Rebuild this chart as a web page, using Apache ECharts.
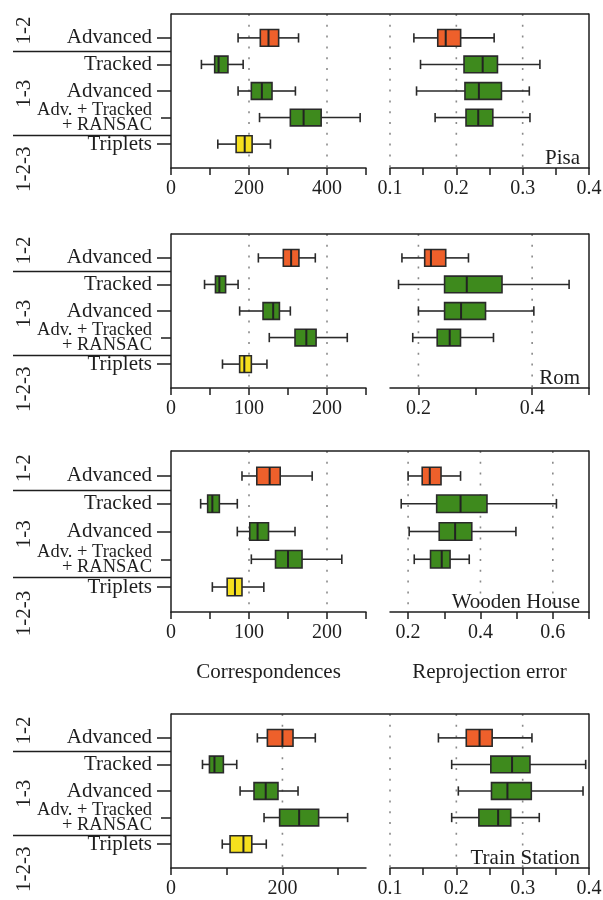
<!DOCTYPE html>
<html><head><meta charset="utf-8">
<script src="https://cdn.jsdelivr.net/npm/echarts@6/dist/echarts.min.js"></script>
<style>html,body{margin:0;padding:0;background:#fff}#c{width:603px;height:900px}</style>
</head><body><div id="c"></div>
<script>
// ---------------- data ----------------
const categories = ['Advanced', 'Tracked', 'Advanced', 'Adv. + Tracked\n+ RANSAC', 'Triplets'];
const rowPos = [1, 2, 3, 4, 5];
const rowGroup = [0, 1, 1, 1, 2];           // 0: 1-2, 1: 1-3, 2: 1-2-3
const groupLabels = ['1-2', '1-3', '1-2-3'];
const datasetNames = ['Pisa', 'Rom', 'Wooden House', 'Train Station'];
const xTitles = ['Correspondences', 'Reprojection error'];

// [min, Q1, median, Q3, max] per row
const pisaCorr  = [[172,229,250,276,327],[78,112,122,146,185],[172,206,233,259,319],[227,306,340,385,485],[120,167,189,208,255]];
const pisaErr   = [[0.136,0.172,0.184,0.2065,0.257],[0.146,0.2116,0.2397,0.262,0.326],[0.140,0.213,0.234,0.268,0.310],[0.168,0.2146,0.233,0.255,0.311]];
const romCorr   = [[112,144,154,164,185],[43,57,62,70,86],[88,118,131,139,153],[126,159,173.5,186,226],[66,88,94,103,123]];
const romErr    = [[0.171,0.211,0.222,0.248,0.288],[0.165,0.246,0.285,0.347,0.465],[0.200,0.246,0.275,0.318,0.403],[0.190,0.233,0.255,0.274,0.332]];
const woodCorr  = [[91,110,126.5,140,181],[38,47,53,62,85],[85,101,111,125,159],[103,134,150,168,219],[53,72,82,91,119]];
const woodErr   = [[0.200,0.239,0.260,0.291,0.345],[0.181,0.279,0.345,0.418,0.610],[0.203,0.286,0.330,0.376,0.498],[0.217,0.262,0.293,0.316,0.369]];
const trainCorr = [[155,173,200,219,259],[56.5,69,78,94,118],[124,149,170,192,228],[167,195,230,265,317],[92,106,130,145,171]];
const trainErr  = [[0.173,0.215,0.235,0.254,0.314],[0.193,0.252,0.284,0.311,0.395],[0.203,0.253,0.277,0.313,0.391],[0.193,0.234,0.263,0.282,0.325]];

const corrData = [pisaCorr, romCorr, woodCorr, trainCorr];
const errData  = [pisaErr, romErr, woodErr, trainErr];

// axis ranges, ticks, labels, dotted grid values
const corrRange  = [[0,500],[0,250],[0,250],[0,350]];
const corrTicks  = [[0,100,200,300,400,500],[0,50,100,150,200,250],[0,50,100,150,200,250],[0,100,200,300]];
const corrLabels = [[0,200,400],[0,100,200],[0,100,200],[0,200]];
const corrGrid   = [[200,400],[100,200],[100,200],[200]];
const errRange   = [[0.1,0.4],[0.15,0.5],[0.15,0.7],[0.1,0.4]];
const errTicks   = [[0.1,0.15,0.2,0.25,0.3,0.35,0.4],[0.2,0.3,0.4,0.5],[0.2,0.3,0.4,0.5,0.6,0.7],[0.1,0.15,0.2,0.25,0.3,0.35,0.4]];
const errLabels  = [[0.1,0.2,0.3,0.4],[0.2,0.4],[0.2,0.4,0.6],[0.1,0.2,0.3,0.4]];
const errGrid    = [[0.1,0.2,0.3],[0.2,0.4],[0.2,0.4,0.6],[0.1,0.2,0.3]];

// ---------------- style / layout ----------------
const FONT = "'Liberation Serif','Times New Roman',serif";
const INK = '#1e1e1e';
const PALETTE = ['#EE602B', '#3E8A1D', '#F6E01E'];
const Y_MIN = 0.1, Y_MAX = 5.9;
const panels = [{T:14,B:168},{T:234,B:388},{T:451,B:612},{T:714,B:868}];
const LEFT_X = 171, LEFT_W = 195, RIGHT_X = 390, RIGHT_W = 199;
const groupRows = [0.72, 3.1, 5.95];
const sepRows = [1.5, 4.65];

function rowY(p, r){ return p.T + (r - Y_MIN) / (Y_MAX - Y_MIN) * (p.B - p.T); }

function renderBox(params, api){
  const row = api.value(0);
  const lo = api.coord([api.value(1), row]);
  const q1 = api.coord([api.value(2), row]);
  const md = api.coord([api.value(3), row]);
  const q3 = api.coord([api.value(4), row]);
  const hi = api.coord([api.value(5), row]);
  const color = PALETTE[api.value(6)];
  const unit = api.size([0, 1])[1];
  const bh = unit * 0.63, ch = unit * 0.35;
  const y = lo[1];
  const ls = {stroke: '#2a2a2a', lineWidth: 1.6};
  return {type:'group', children:[
    {type:'line', shape:{x1:lo[0], y1:y, x2:q1[0], y2:y}, style:ls},
    {type:'line', shape:{x1:q3[0], y1:y, x2:hi[0], y2:y}, style:ls},
    {type:'line', shape:{x1:lo[0], y1:y-ch/2, x2:lo[0], y2:y+ch/2}, style:ls},
    {type:'line', shape:{x1:hi[0], y1:y-ch/2, x2:hi[0], y2:y+ch/2}, style:ls},
    {type:'rect', shape:{x:q1[0], y:y-bh/2, width:q3[0]-q1[0], height:bh}, style:{fill:color, stroke:'#2a2a2a', lineWidth:1.6}},
    {type:'line', shape:{x1:md[0], y1:y-bh/2, x2:md[0], y2:y+bh/2}, style:{stroke:'#222', lineWidth:2}}
  ]};
}
function renderGridLine(params, api){
  const v = api.value(0);
  const a = api.coord([v, Y_MIN]), b = api.coord([v, Y_MAX]);
  return {type:'line', shape:{x1:a[0], y1:a[1], x2:b[0], y2:b[1]}, style:{stroke:'#8a8a8a', lineWidth:1.6, lineDash:[2, 8.8]}};
}

const grids = [], xAxes = [], yAxes = [], extraY = [], series = [], graphics = [];
const axisLineStyle = {color: INK, width: 1.5};

function catFormatter(v){
  const name = categories[Math.round(v) - 1] || '';
  if (name.indexOf('\n') >= 0) return name.split('\n').map(s => '{s|' + s + '}').join('\n');
  return name;
}

function xAxisCfg(gi, range, ticks, labels, name){
  const c = {
    type:'value', gridIndex:gi, min:range[0], max:range[1],
    axisLine:{show:true, onZero:false, lineStyle:axisLineStyle},
    axisTick:{show:true, customValues:ticks, length:7, lineStyle:axisLineStyle},
    axisLabel:{customValues:labels, margin:11, fontSize:20, color:INK, fontFamily:FONT, showMinLabel:true, showMaxLabel:true, hideOverlap:false},
    splitLine:{show:false}
  };
  if (name) {
    c.name = name; c.nameLocation = 'middle'; c.nameGap = 50;
    c.nameTextStyle = {fontSize:21, color:INK, fontFamily:FONT};
  }
  return c;
}
// rows: which row positions get a tick + label on this axis
function yAxisCfg(gi, left, rows, tickLen, showLine){
  return {
    type:'value', gridIndex:gi, min:Y_MIN, max:Y_MAX, inverse:true, position: left ? 'left' : 'right',
    axisLine:{show:showLine, onZero:false, lineStyle:axisLineStyle},
    axisTick:{show:left, customValues:rows, length:tickLen, lineStyle:axisLineStyle},
    axisLabel:{show:left, customValues:rows, margin:19, fontSize:21, color:INK, fontFamily:FONT,
      showMinLabel:true, showMaxLabel:true, hideOverlap:false,
      formatter: catFormatter,
      rich:{s:{fontSize:18.5, lineHeight:15, fontFamily:FONT, color:INK}}
    },
    splitLine:{show:false}
  };
}

const mainRows = rowPos.filter(r => categories[r-1].indexOf('\n') < 0);
const wrapRows = rowPos.filter(r => categories[r-1].indexOf('\n') >= 0);

panels.forEach((p, k) => {
  const gl = 2*k, gr = 2*k + 1;
  grids.push({left:LEFT_X, top:p.T, width:LEFT_W, height:p.B - p.T, containLabel:false, outerBoundsMode:'none'});
  grids.push({left:RIGHT_X, top:p.T, width:RIGHT_W, height:p.B - p.T, containLabel:false, outerBoundsMode:'none'});
  xAxes.push(xAxisCfg(gl, corrRange[k], corrTicks[k], corrLabels[k], k === 2 ? xTitles[0] : null));
  xAxes.push(xAxisCfg(gr, errRange[k], errTicks[k], errLabels[k], k === 2 ? xTitles[1] : null));
  yAxes.push(yAxisCfg(gl, true, mainRows, 14, true));
  yAxes.push(yAxisCfg(gr, false, [], 0, true));
  extraY.push(yAxisCfg(gl, true, wrapRows, 10, false));

  series.push({type:'custom', xAxisIndex:gl, yAxisIndex:gl, z:1, silent:true, clip:true,
    renderItem:renderGridLine, encode:{x:0}, data:corrGrid[k].map(v => [v])});
  series.push({type:'custom', xAxisIndex:gr, yAxisIndex:gr, z:1, silent:true, clip:false,
    renderItem:renderGridLine, encode:{x:0}, data:errGrid[k].map(v => [v])});
  series.push({type:'custom', xAxisIndex:gl, yAxisIndex:gl, z:3, renderItem:renderBox,
    encode:{x:[1,2,3,4,5], y:0},
    data:corrData[k].map((d, i) => [rowPos[i], ...d, rowGroup[i]])});
  series.push({type:'custom', xAxisIndex:gr, yAxisIndex:gr, z:3, renderItem:renderBox,
    encode:{x:[1,2,3,4,5], y:0},
    data:errData[k].map((d, i) => [rowPos[i], ...d, rowGroup[i]])});

  // frame top line spanning both plots
  graphics.push({type:'line', shape:{x1:LEFT_X, y1:p.T, x2:RIGHT_X + RIGHT_W, y2:p.T}, style:{stroke:INK, lineWidth:1.5}, z:10});
  // group separators
  sepRows.forEach(r => {
    const y = Math.round(rowY(p, r)) + 0.5;
    graphics.push({type:'line', shape:{x1:13, y1:y, x2:LEFT_X, y2:y}, style:{stroke:INK, lineWidth:1.5}, z:10});
  });
  // group labels (rotated)
  groupLabels.forEach((g, i) => {
    graphics.push({type:'text', x:24, y:rowY(p, groupRows[i]), rotation:Math.PI/2,
      style:{text:g, font:'21px ' + FONT, fill:INK, align:'center', verticalAlign:'middle'}, z:10});
  });
  // dataset name
  graphics.push({type:'text', x:580, y:p.B - 10,
    style:{text:datasetNames[k], font:'21px ' + FONT, fill:INK, align:'right', verticalAlign:'middle'}, z:10});
});

const chart = echarts.init(document.getElementById('c'), null, {renderer:'canvas'});
chart.setOption({
  animation:false,
  backgroundColor:'#fff',
  textStyle:{fontFamily:FONT},
  grid:grids, xAxis:xAxes, yAxis:yAxes.concat(extraY), series:series, graphic:graphics
});
</script>
</body></html>
